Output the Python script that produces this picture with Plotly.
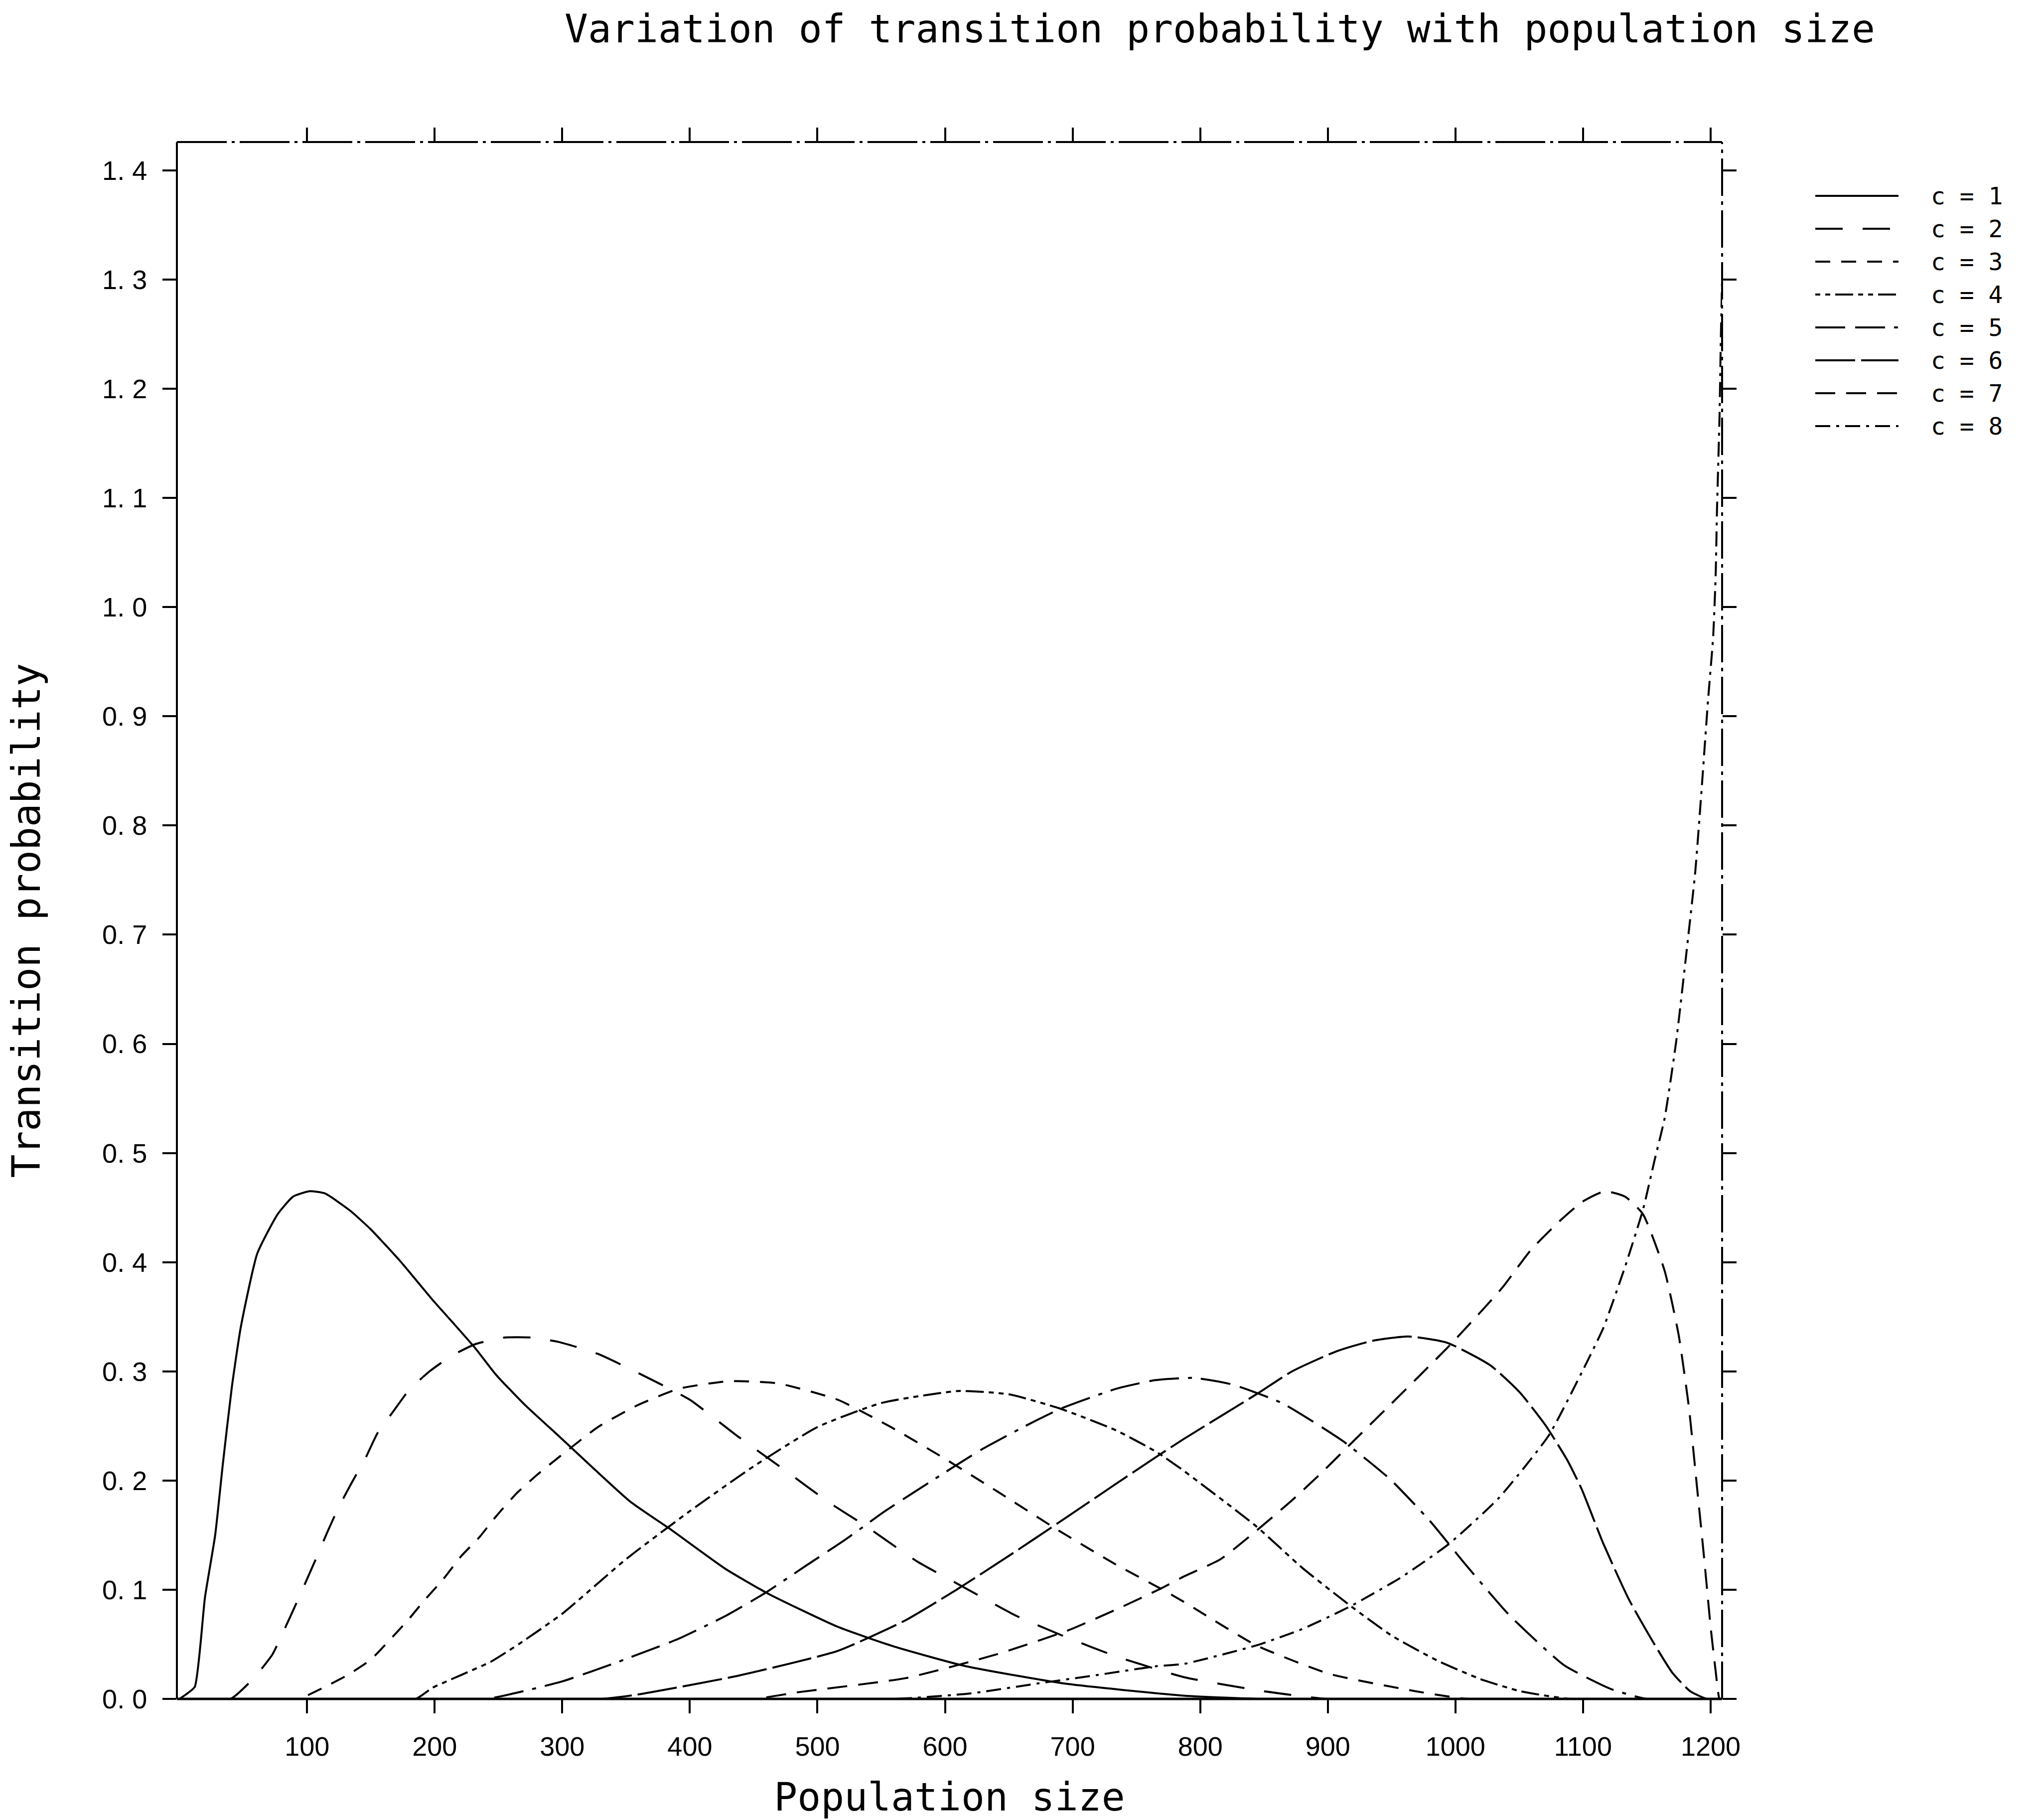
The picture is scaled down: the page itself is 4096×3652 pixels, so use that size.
import plotly.graph_objects as go

# ---------------- data ----------------
series_names = ["c = 1", "c = 2", "c = 3", "c = 4", "c = 5", "c = 6", "c = 7", "c = 8"]

x_c1 = [0, 5, 12, 20, 28, 34, 41, 48, 61, 77, 89, 102, 114, 134, 150, 173, 198, 214, 232, 248, 271, 298,
        353, 384, 428, 462, 516, 560, 616, 694, 787, 850, 1209]
y_c1 = [0.0, 0.004, 0.011, 0.093, 0.150, 0.215, 0.285, 0.340, 0.408, 0.444, 0.460, 0.465, 0.463, 0.447, 0.430,
        0.401, 0.366, 0.345, 0.321, 0.297, 0.269, 0.240, 0.181, 0.156, 0.119, 0.096, 0.066, 0.048, 0.030, 0.014,
        0.003, 0.0, 0.0]

x_c2 = [0, 40, 59, 73, 82, 91, 108, 116, 125, 135, 146, 155, 168, 180, 196, 213, 232, 255, 276, 297, 328, 369,
        400, 437, 475, 509, 537, 578, 612, 656, 694, 734, 787, 850, 900, 1209]
y_c2 = [0.0, 0.0, 0.020, 0.041, 0.063, 0.086, 0.131, 0.153, 0.176, 0.198, 0.221, 0.243, 0.264, 0.283, 0.300,
        0.314, 0.325, 0.331, 0.331, 0.327, 0.316, 0.293, 0.274, 0.241, 0.209, 0.180, 0.159, 0.126, 0.104, 0.076,
        0.057, 0.039, 0.020, 0.007, 0.0, 0.0]

x_c3 = [0, 95, 100, 114, 132, 150, 164, 179, 191, 207, 221, 235, 248, 264, 280, 298, 328, 359, 391, 430, 469,
        516, 556, 597, 641, 688, 734, 769, 787, 844, 901, 969, 1010, 1209]
y_c3 = [0.0, 0.0, 0.003, 0.011, 0.022, 0.036, 0.053, 0.072, 0.089, 0.110, 0.131, 0.148, 0.167, 0.188, 0.205,
        0.222, 0.249, 0.269, 0.284, 0.291, 0.289, 0.274, 0.250, 0.222, 0.190, 0.155, 0.123, 0.101, 0.089, 0.049,
        0.023, 0.007, 0.0, 0.0]

x_c4 = [0, 185, 198, 221, 244, 267, 300, 350, 400, 450, 500, 550, 610, 650, 690, 734, 766, 787, 844, 880, 918,
        950, 986, 1020, 1051, 1090, 1209]
y_c4 = [0.0, 0.0, 0.010, 0.022, 0.034, 0.051, 0.078, 0.128, 0.172, 0.213, 0.249, 0.271, 0.282, 0.279, 0.266,
        0.246, 0.226, 0.209, 0.158, 0.120, 0.085, 0.058, 0.035, 0.018, 0.007, 0.0, 0.0]

x_c5 = [0, 240, 262, 300, 344, 391, 428, 459, 491, 522, 553, 594, 628, 663, 691, 734, 765, 795, 825, 864, 912,
        949, 980, 1008, 1042, 1085, 1122, 1150, 1209]
y_c5 = [0.0, 0.0, 0.005, 0.016, 0.034, 0.055, 0.076, 0.097, 0.122, 0.146, 0.172, 0.203, 0.228, 0.250, 0.266,
        0.284, 0.292, 0.294, 0.288, 0.271, 0.236, 0.201, 0.163, 0.123, 0.077, 0.031, 0.009, 0.0, 0.0]

x_c6 = [0, 330, 359, 437, 516, 569, 609, 650, 691, 734, 766, 787, 844, 872, 906, 935, 963, 994, 1028, 1051,
        1071, 1088, 1099, 1116, 1136, 1156, 1170, 1184, 1197, 1209]
y_c6 = [0.0, 0.0, 0.004, 0.021, 0.044, 0.072, 0.100, 0.131, 0.163, 0.197, 0.222, 0.238, 0.279, 0.300, 0.318,
        0.328, 0.332, 0.326, 0.305, 0.280, 0.250, 0.218, 0.192, 0.142, 0.091, 0.050, 0.024, 0.007, 0.0, 0.0]

x_c7 = [0, 450, 484, 569, 641, 697, 740, 769, 787, 816, 844, 872, 895, 920, 946, 971, 994, 1014, 1037, 1059,
        1082, 1099, 1117, 1133, 1147, 1164, 1175, 1183, 1189, 1195, 1200, 1204, 1207, 1209]
y_c7 = [0.0, 0.0, 0.006, 0.019, 0.041, 0.063, 0.085, 0.101, 0.112, 0.128, 0.154, 0.182, 0.207, 0.236, 0.266,
        0.295, 0.322, 0.347, 0.377, 0.411, 0.438, 0.455, 0.465, 0.460, 0.444, 0.392, 0.333, 0.267, 0.198, 0.128,
        0.066, 0.025, 0.0, 0.0]

x_c8 = [0, 560, 620, 672, 720, 766, 787, 844, 880, 918, 957, 995, 1034, 1073, 1099, 1116, 1133, 1147, 1156,
        1164, 1173, 1181, 1188, 1193, 1198, 1202, 1204, 1205, 1207, 1208, 1209]
y_c8 = [0.0, 0.0, 0.005, 0.014, 0.022, 0.030, 0.032, 0.049, 0.064, 0.085, 0.111, 0.142, 0.184, 0.241, 0.299,
        0.340, 0.396, 0.448, 0.493, 0.532, 0.602, 0.683, 0.758, 0.834, 0.915, 0.973, 1.031, 1.089, 1.176, 1.245,
        1.300]

x_ticks = [100, 200, 300, 400, 500, 600, 700, 800, 900, 1000, 1100, 1200]
y_ticks = [0.0, 0.1, 0.2, 0.3, 0.4, 0.5, 0.6, 0.7, 0.8, 0.9, 1.0, 1.1, 1.2, 1.3, 1.4]
y_tick_labels = ["0. 0", "0. 1", "0. 2", "0. 3", "0. 4", "0. 5", "0. 6", "0. 7",
                 "0. 8", "0. 9", "1. 0", "1. 1", "1. 2", "1. 3", "1. 4"]
legend_sample_x = [0, 1]
legend_text_x = 1.383

xs = [x_c1, x_c2, x_c3, x_c4, x_c5, x_c6, x_c7, x_c8]
ys = [y_c1, y_c2, y_c3, y_c4, y_c5, y_c6, y_c7, y_c8]

# ---------------- styles ----------------
dash_styles = ["solid", "55px,40px", "30px,22px", "10px,10px,10px,10px,36px,10px",
               "60px,20px,60px,18px,8px,18px", "80px,12px", "40px,22px", "30px,12px,6px,12px"]

W, H = 4096, 3652
PL, PR, PT, PB = 347, 3448, 277, 3401
LEG_X0, LEG_UNIT = 3635, 167          # legend sample line: left edge and length (px)
LEG_XMAX = 2.6                        # legend axis spans sample + text
MONO = "DejaVu Sans Mono"
SANS = "Liberation Sans"
BLACK = "#000000"

fig = go.Figure()
for name, xv, yv, dash in zip(series_names, xs, ys, dash_styles):
    fig.add_trace(go.Scatter(x=xv, y=yv, mode="lines", name=name,
                             line=dict(color=BLACK, width=4, dash=dash, shape="spline", smoothing=0.5),
                             showlegend=False))

# custom legend (long line samples as in the reference)
for i, (name, dash) in enumerate(zip(series_names, dash_styles)):
    fig.add_trace(go.Scatter(x=legend_sample_x, y=[i + 1, i + 1], mode="lines", xaxis="x3", yaxis="y3",
                             line=dict(color=BLACK, width=4, dash=dash), showlegend=False, hoverinfo="skip"))
    fig.add_annotation(text=name, xref="x3", yref="y3", x=legend_text_x, y=i + 1, xanchor="left",
                       yanchor="middle", showarrow=False, borderpad=0,
                       font=dict(family=MONO, size=48, color=BLACK))

xdom = [PL / W, PR / W]
ydom = [(H - PB) / H, (H - PT) / H]
xrange_ = [-2, 1209]
yrange_ = [0, 1.426]

common_tick = dict(tickcolor=BLACK, tickwidth=4, ticklen=28, showgrid=False, zeroline=False, showline=False)

fig.update_layout(
    width=W, height=H, autosize=False,
    paper_bgcolor="white", plot_bgcolor="white",
    margin=dict(l=0, r=0, t=0, b=0, pad=0),
    title=dict(text="Variation of transition probability with population size",
               font=dict(family=MONO, size=78, color=BLACK),
               x=2440 / W, xanchor="center", y=1 - 50 / H, yanchor="middle"),
    xaxis=dict(domain=xdom, range=xrange_, tickmode="array", tickvals=x_ticks,
               ticktext=[str(v) for v in x_ticks], ticks="outside", mirror="ticks",
               tickfont=dict(family=SANS, size=54, color=BLACK), ticklabelstandoff=20,
               title=dict(text="Population size", font=dict(family=MONO, size=78, color=BLACK), standoff=45),
               automargin=False, anchor="y", **common_tick),
    xaxis2=dict(domain=xdom, range=xrange_, tickmode="array", tickvals=x_ticks, overlaying="x", anchor="y",
                ticks="inside", mirror="ticks", showticklabels=False, automargin=False, **common_tick),
    yaxis=dict(domain=ydom, range=yrange_, tickmode="array", tickvals=y_ticks, ticktext=y_tick_labels,
               ticks="outside", mirror="ticks",
               tickfont=dict(family=SANS, size=54, color=BLACK), ticklabelstandoff=20,
               title=dict(text="Transition probability", font=dict(family=MONO, size=78, color=BLACK),
                          standoff=100),
               automargin=False, anchor="x", **common_tick),
    yaxis2=dict(domain=ydom, range=yrange_, tickmode="array", tickvals=y_ticks, overlaying="y", anchor="x",
                ticks="inside", mirror="ticks", showticklabels=False, automargin=False, **common_tick),
    xaxis3=dict(domain=[LEG_X0 / W, (LEG_X0 + LEG_XMAX * LEG_UNIT) / W], range=[0, LEG_XMAX],
                visible=False, anchor="y3", fixedrange=True),
    yaxis3=dict(domain=[(H - 880) / H, (H - 352) / H], range=[8.5, 0.5], visible=False, anchor="x3",
                fixedrange=True),
    showlegend=False,
)

frame = [
    dict(x0=0, x1=0, y0=0, y1=1, dash="solid", width=4),
    dict(x0=0, x1=1, y0=0, y1=0, dash="solid", width=5),
    dict(x0=0, x1=1, y0=1, y1=1, dash="100px,10px,6px,10px", width=4),
    dict(x0=1, x1=1, y0=0, y1=1, dash="75px,11px,7px,11px", width=4),
]
for f in frame:
    fig.add_shape(type="line", xref="x domain", yref="y domain", x0=f["x0"], x1=f["x1"], y0=f["y0"], y1=f["y1"],
                  line=dict(color=BLACK, width=f["width"], dash=f["dash"]))

fig.write_html("out.html")
